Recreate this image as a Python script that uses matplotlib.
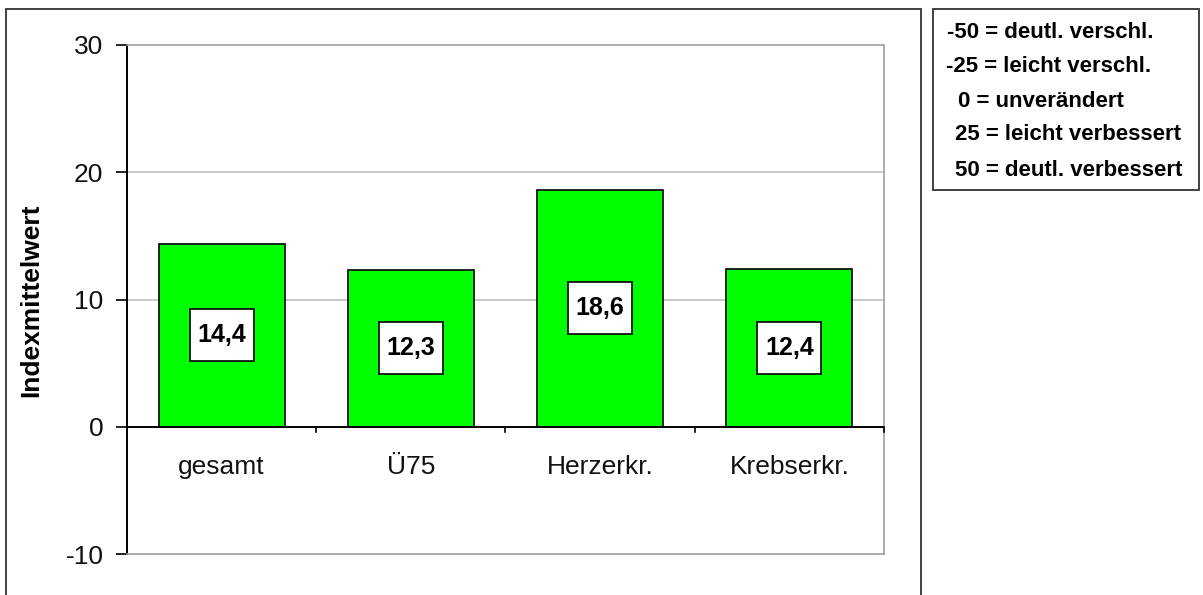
import matplotlib.pyplot as plt
import matplotlib.transforms as mtransforms
from matplotlib.patches import Rectangle

plt.rcParams['font.family'] = ['Liberation Sans', 'DejaVu Sans']

categories = ["gesamt", "Ü75", "Herzerkr.", "Krebserkr."]
values = [14.4, 12.3, 18.6, 12.4]
value_labels = ["14,4", "12,3", "18,6", "12,4"]
y_ticks = [-10, 0, 10, 20, 30]
scale_notes = ["-50 = deutl. verschl.", "-25 = leicht verschl.", "0 = unverändert",
               "25 = leicht verbessert", "50 = deutl. verbessert"]

W, H = 1203, 595
fig = plt.figure(figsize=(W / 100, H / 100), dpi=100)

# outer chart frame and the scale box on the right
fig.patches.append(Rectangle((6 / W, -0.1), (921 - 6) / W, 1.1 - 9 / H,
                             transform=fig.transFigure, fill=False,
                             edgecolor='#333333', lw=1.3))
fig.patches.append(Rectangle((933 / W, 1 - 190 / H), (1199 - 933) / W, (190 - 9) / H,
                             transform=fig.transFigure, fill=False,
                             edgecolor='#333333', lw=1.3))

ax = fig.add_axes([127 / W, 1 - 554 / H, (884 - 127) / W, (554 - 45) / H])
ax.set_xlim(0, len(categories))
ax.set_ylim(-10, 30)

x = [i + 0.5 for i in range(len(categories))]
ax.bar(x, values, width=0.667, color='#00ff00', edgecolor='black', lw=1.2, zorder=3)

# value boxes centred in each bar (fixed size in inches)
for xi, v, lab in zip(x, values, value_labels):
    tr = fig.dpi_scale_trans + mtransforms.ScaledTranslation(xi, v / 2, ax.transData)
    ax.add_patch(Rectangle((-0.32, -0.26), 0.64, 0.52, transform=tr,
                           fc='white', ec='black', lw=1.2, zorder=4))
    ax.text(xi, v / 2, lab, ha='center', va='center', fontsize=18,
            fontweight='bold', zorder=5)

# gridlines and plot-area border
for t in [10, 20]:
    ax.axhline(t, color='#c0c0c0', lw=1.2, zorder=1)
for side in ['top', 'right', 'bottom']:
    ax.spines[side].set_color('#a0a0a0')
    ax.spines[side].set_linewidth(1.2)
ax.spines['left'].set_color('black')
ax.spines['left'].set_linewidth(1.4)

# category axis at zero
ax.axhline(0, color='black', lw=1.4, zorder=6)
for b in range(1, len(categories) + 1):
    ax.plot([b, b], [0, -0.45], color='black', lw=1.2, zorder=6, clip_on=False)
for xi, c in zip(x, categories):
    ax.text(xi, -3.2, c, ha='center', va='center', fontsize=19, color='#111111')

ax.set_xticks([])
ax.set_yticks(y_ticks)
ax.set_yticklabels([str(t) for t in y_ticks], fontsize=19, color='#111111')
ax.tick_params(axis='y', length=8, width=1.2, pad=9, color='black')
ax.set_ylabel("Indexmittelwert", fontsize=19, fontweight='bold')
ax.yaxis.set_label_coords(-84 / (884 - 127), (554 - 300) / (554 - 45))

note_x = [947, 946, 958, 955, 955]
note_y = [32, 67, 101, 135, 170]
for nx, ny, s in zip(note_x, note_y, scale_notes):
    fig.text(nx / W, 1 - ny / H, s, ha='left', va='center', fontsize=16, fontweight='bold')

fig.savefig("out.png", dpi=100)
